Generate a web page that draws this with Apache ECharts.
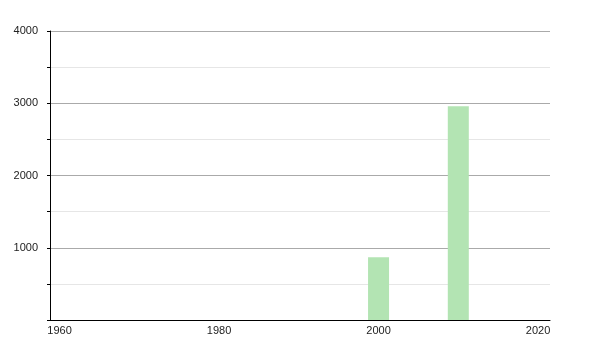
<!DOCTYPE html>
<html>
<head>
<meta charset="utf-8">
<script src="https://cdn.jsdelivr.net/npm/echarts@6/dist/echarts.min.js"></script>
<style>html,body{margin:0;padding:0;background:#fff;}#c{width:600px;height:350px;}</style>
</head>
<body>
<div id="c"></div>
<script>
const years = [2000, 2010];
const values = [870, 2960];
const xTickLabels = [1960, 1980, 2000, 2020];
const yTickLabels = [1000, 2000, 3000, 4000];

const chart = echarts.init(document.getElementById('c'), null, {renderer: 'canvas'});
chart.setOption({
  animation: false,
  backgroundColor: '#ffffff',
  grid: {left: 50, right: 50, top: 31, bottom: 30, containLabel: false},
  xAxis: {
    type: 'value',
    min: 1958.8,
    max: 2021.5,
    axisLine: {show: true, lineStyle: {color: '#000', width: 1}},
    axisTick: {show: false},
    splitLine: {show: false},
    axisLabel: {
      customValues: xTickLabels,
      formatter: v => String(v),
      color: '#222',
      fontFamily: 'Liberation Sans, Arial, sans-serif',
      fontSize: 11,
      margin: 5
    }
  },
  yAxis: {
    type: 'value',
    min: 0,
    max: 4000,
    interval: 500,
    axisLine: {show: true, lineStyle: {color: '#000', width: 1}},
    axisTick: {show: true, length: 3, lineStyle: {color: '#000'}},
    splitLine: {show: true, lineStyle: {color: ['#aaaaaa', '#e6e6e6'], width: 1}},
    axisLabel: {
      formatter: v => (yTickLabels.indexOf(v) >= 0 ? String(v) : ''),
      color: '#222',
      fontFamily: 'Liberation Sans, Arial, sans-serif',
      fontSize: 11,
      margin: 12
    }
  },
  series: [{
    type: 'bar',
    data: years.map((y, i) => [y, values[i]]),
    barWidth: 21,
    itemStyle: {color: '#b3e4b3'}
  }]
});
</script>
</body>
</html>
